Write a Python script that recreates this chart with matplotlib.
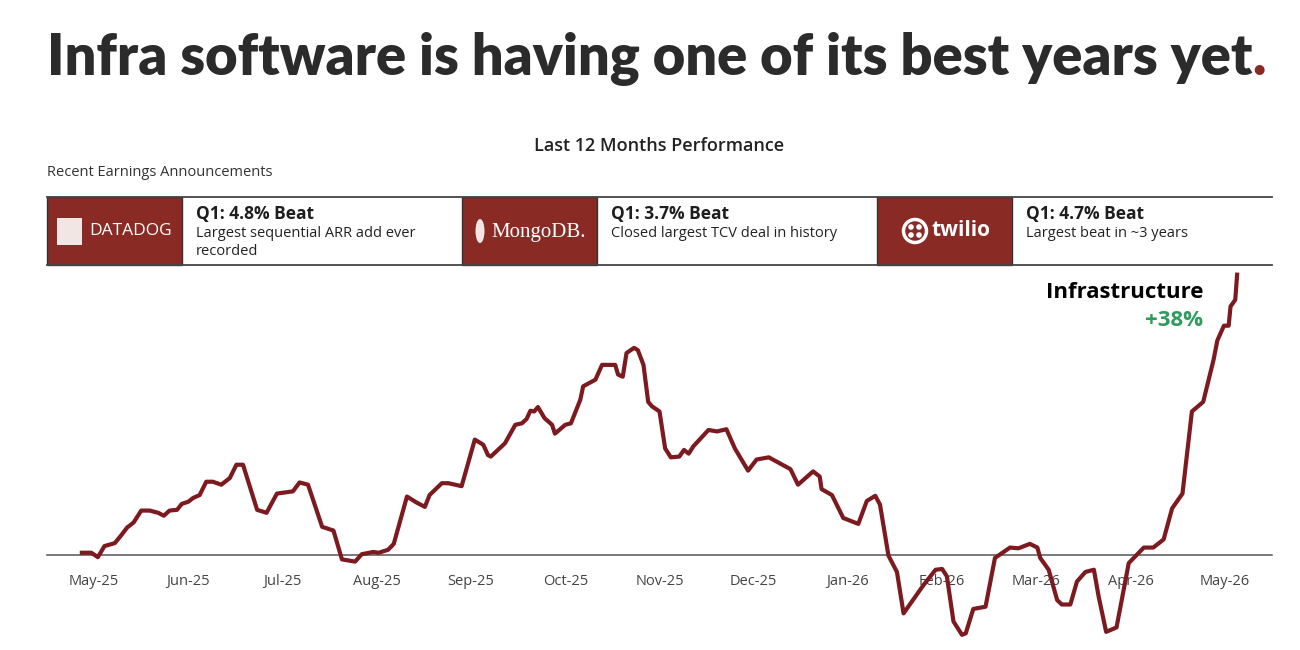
import matplotlib.pyplot as plt
from matplotlib.patches import Rectangle, Circle, Ellipse

# month ticks (evenly spaced on the axis)
months = ["May-25", "Jun-25", "Jul-25", "Aug-25", "Sep-25", "Oct-25", "Nov-25",
          "Dec-25", "Jan-26", "Feb-26", "Mar-26", "Apr-26", "May-26"]

# position in months since May-25, and cumulative performance (%)
t = [-0.13, -0.03, 0.04, 0.11, 0.22, 0.29, 0.35, 0.42, 0.50, 0.59, 0.68, 0.74,
     0.80, 0.88, 0.93, 1.00, 1.05, 1.12, 1.19, 1.26, 1.35, 1.44, 1.51, 1.58,
     1.73, 1.83, 1.94, 2.11, 2.18, 2.27, 2.42, 2.54, 2.63, 2.77, 2.84, 2.96,
     3.02, 3.12, 3.18, 3.32, 3.42, 3.51, 3.56, 3.69, 3.76, 3.90, 4.04, 4.13,
     4.18, 4.21, 4.36, 4.47, 4.54, 4.59, 4.63, 4.67, 4.71, 4.78, 4.86, 4.89,
     5.00, 5.06, 5.16, 5.19, 5.32, 5.39, 5.53, 5.56, 5.61, 5.65, 5.73, 5.77,
     5.83, 5.88, 5.92, 6.00, 6.06, 6.12, 6.21, 6.26, 6.31, 6.36, 6.52, 6.61,
     6.71, 6.80, 6.94, 7.03, 7.16, 7.39, 7.47, 7.63, 7.70, 7.72, 7.83, 7.95,
     8.11, 8.20, 8.29, 8.34, 8.43, 8.52, 8.59, 8.80, 8.93, 9.00, 9.05, 9.12,
     9.21, 9.25, 9.33, 9.46, 9.56, 9.72, 9.81, 9.93, 10.01, 10.04, 10.13, 10.22,
     10.27, 10.36, 10.43, 10.52, 10.61, 10.66, 10.74, 10.85, 10.98, 11.14,
     11.24, 11.35, 11.44, 11.55, 11.65, 11.77, 11.88, 11.92, 11.99, 12.04,
     12.06, 12.11, 12.13]
perf = [0.3, 0.3, -0.3, 1.2, 1.6, 2.7, 3.7, 4.4, 6.0, 6.0, 5.7, 5.3,
        6.0, 6.1, 6.9, 7.2, 7.7, 8.1, 9.9, 9.9, 9.5, 10.4, 12.2, 12.2,
        6.1, 5.7, 8.3, 8.6, 9.8, 9.5, 3.8, 3.3, -0.6, -0.9, 0.1, 0.4,
        0.3, 0.7, 1.5, 7.9, 7.1, 6.5, 8.1, 9.7, 9.7, 9.3, 15.6, 14.9,
        13.5, 13.3, 15.1, 17.6, 17.8, 18.4, 19.5, 19.4, 20.0, 18.5, 17.6, 16.4,
        17.6, 17.8, 21.0, 22.8, 23.7, 25.7, 25.7, 24.4, 24.1, 27.3, 28.0, 27.7,
        25.7, 20.7, 20.1, 19.4, 14.4, 13.2, 13.3, 14.2, 13.7, 14.7, 16.9, 16.7,
        17.0, 14.4, 11.4, 12.9, 13.2, 11.6, 9.5, 11.3, 10.6, 8.9, 8.1, 5.0,
        4.2, 7.3, 8.0, 6.8, -0.1, -2.3, -7.9, -4.1, -2.0, -1.9, -2.9, -9.0,
        -10.8, -10.6, -7.3, -7.0, -0.4, 1.0, 0.9, 1.5, 1.0, -0.4, -2.0, -6.1,
        -6.7, -6.7, -3.6, -2.3, -2.0, -5.6, -10.4, -9.8, -1.1, 1.0,
        1.0, 2.1, 6.3, 8.3, 19.4, 20.7, 26.4, 29.0, 31.0, 31.0,
        33.6, 34.5, 37.9]

companies = ["DATADOG", "MongoDB.", "twilio"]
beats = ["Q1: 4.8% Beat", "Q1: 3.7% Beat", "Q1: 4.7% Beat"]
notes = ["Largest sequential ARR add ever\nrecorded",
         "Closed largest TCV deal in history",
         "Largest beat in ~3 years"]

RED = "#8a2a24"
LINE = "#7d1a20"
DARK = "#2b2b2b"
GREEN = "#2e9c5c"

plt.rcParams["font.family"] = ["Open Sans", "DejaVu Sans"]

W, H = 1300, 650
fig = plt.figure(figsize=(13, 6.5), dpi=100)

# overlay in pixel coordinates for the header and the table
ov = fig.add_axes([0, 0, 1, 1])
ov.set_xlim(0, W)
ov.set_ylim(H, 0)
ov.axis("off")

title = ov.text(47, 75, "Infra software is having one of its best years yet",
                ha="left", va="baseline", fontsize=36, fontweight="heavy",
                family=["Lato", "DejaVu Sans"], color=DARK)
# fit the title to the width of the reference
renderer = fig.canvas.get_renderer()
for _ in range(3):
    bb = title.get_window_extent(renderer).transformed(ov.transData.inverted())
    title.set_fontsize(title.get_fontsize() * (1250 - 47) / (bb.x1 - bb.x0))
bb = title.get_window_extent(renderer).transformed(ov.transData.inverted())
ov.text(bb.x1, 75, ".", ha="left", va="baseline", fontsize=title.get_fontsize(),
        fontweight="heavy", family=["Lato", "DejaVu Sans"], color=RED)

ov.text(659, 146, "Last 12 Months Performance", ha="center", va="center",
        fontsize=13, fontweight="semibold", color="#222222")
ov.text(47, 172, "Recent Earnings Announcements", ha="left", va="center",
        fontsize=10.5, color="#333333")

# table
top, bot = 197, 265
ov.plot([47, 1272], [top, top], color="#444444", lw=1.3)
ov.plot([47, 1272], [bot, bot], color="#444444", lw=1.3)
box_x = [47, 462, 877]
box_w = 135
for i, x0 in enumerate(box_x):
    ov.add_patch(Rectangle((x0, top), box_w, bot - top, facecolor=RED,
                           edgecolor="#333333", lw=1))
    ov.text(x0 + box_w + 14, 214, beats[i], ha="left", va="center",
            fontsize=12.5, fontweight="bold", color="#1e1e1e")
    ov.text(x0 + box_w + 14, 226, notes[i], ha="left", va="top",
            fontsize=10.5, color="#222222", linespacing=1.3)

# logos as text + simple shapes
ov.add_patch(Rectangle((57, 218), 25, 27, facecolor="#f2e6e4", edgecolor="none"))
ov.text(89, 231, companies[0], ha="left", va="center", fontsize=12.5,
        color="white")
ov.add_patch(Ellipse((480, 231), 9, 24, facecolor="#f2e6e4", edgecolor="none"))
ov.text(491, 232, companies[1], ha="left", va="center", fontsize=15,
        family=["Liberation Serif", "DejaVu Serif"], color="white")
ov.add_patch(Circle((915, 231), 11.5, facecolor="none", edgecolor="white", lw=2.5))
for dx, dy in [(-4, -4), (4, -4), (-4, 4), (4, 4)]:
    ov.add_patch(Circle((915 + dx, 231 + dy), 2.8, facecolor="white", edgecolor="none"))
ov.text(932, 231, companies[2], ha="left", va="center", fontsize=15,
        fontweight="bold", color="white")

# performance line
ax = fig.add_axes([47 / W, 1 - 640 / H, 1225 / W, (640 - 268) / H])
ax.plot(t, perf, color=LINE, lw=3, solid_joinstyle="round", zorder=3)
ax.set_xlim(-0.5, 12.5)
ax.set_ylim(-11.5, 38.8)
for s in ["top", "left", "right"]:
    ax.spines[s].set_visible(False)
ax.spines["bottom"].set_position(("data", 0))
ax.spines["bottom"].set_color("#555555")
ax.spines["bottom"].set_linewidth(1.1)
ax.set_xticks(range(len(months)))
ax.set_xticklabels(months)
ax.tick_params(axis="x", length=0, pad=14, labelsize=10.5, labelcolor="#444444")
ax.set_yticks([])
ax.patch.set_alpha(0)

ov.text(1203, 293, "Infrastructure", ha="right", va="center", fontsize=16,
        fontweight="bold", color="black")
ov.text(1203, 321, "+38%", ha="right", va="center", fontsize=16,
        fontweight="bold", color=GREEN)

fig.savefig("out.png", dpi=100)
